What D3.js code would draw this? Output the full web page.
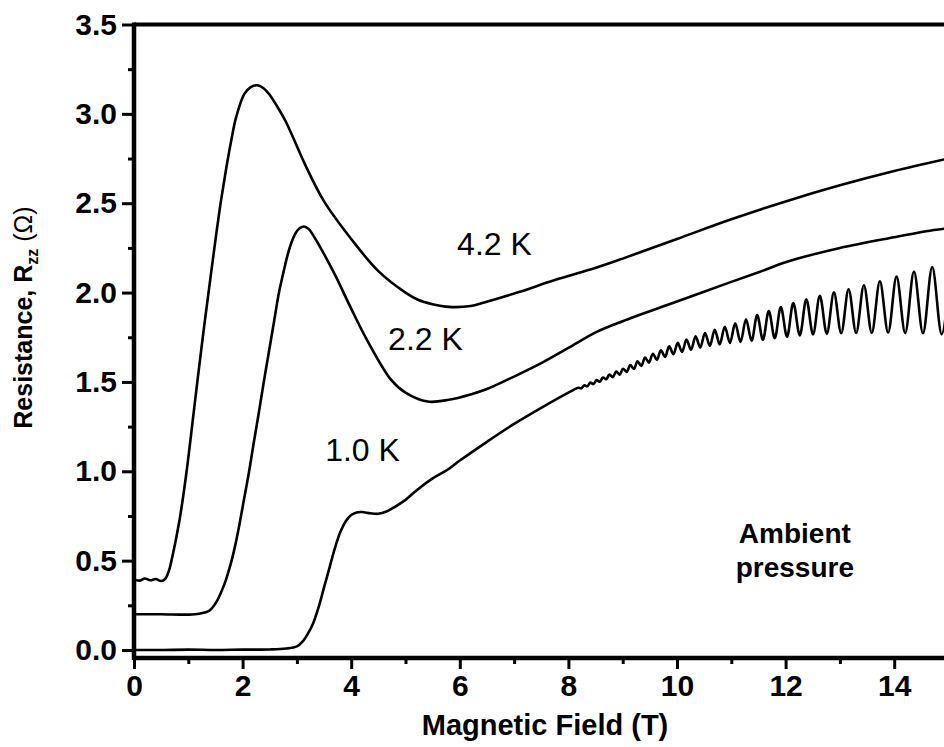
<!DOCTYPE html>
<html>
<head>
<meta charset="utf-8">
<script src="https://cdn.jsdelivr.net/npm/d3@7"></script>
<style>
    body { margin: 0; background: #fff; }
    svg { display: block; overflow: hidden; }
    text { font-family: "Liberation Sans", Arial, sans-serif; fill: #000; }
    .axis text { font-weight: bold; font-size: 30px; }
    .axis line { stroke: #000; stroke-width: 3; }
</style>
</head>
<body>
<script>
// values (field in T, resistance in ohm)
const field42 = [0, 0.1, 0.2, 0.3, 0.4, 0.5, 0.58, 0.65, 0.69, 0.76, 0.84, 0.92, 0.99, 1.08, 1.17, 1.3, 1.42, 1.52, 1.6, 1.69, 1.79, 1.88, 2.03, 2.15, 2.27, 2.38, 2.49, 2.64, 2.79, 2.97, 3.16, 3.5, 4.0, 4.5, 5.0, 5.23, 5.5, 5.8, 6.2, 6.45, 7.06, 7.75, 8.52, 9.0, 10.0, 11.0, 12.0, 13.0, 14.0, 15.0];
const res42 = [0.395, 0.388, 0.4, 0.39, 0.397, 0.386, 0.4, 0.45, 0.5, 0.6, 0.73, 0.89, 1.05, 1.28, 1.51, 1.83, 2.11, 2.34, 2.51, 2.68, 2.85, 2.98, 3.11, 3.15, 3.16, 3.145, 3.11, 3.04, 2.96, 2.84, 2.71, 2.51, 2.3, 2.12, 2.0, 1.96, 1.935, 1.92, 1.925, 1.945, 2.0, 2.07, 2.14, 2.19, 2.3, 2.41, 2.51, 2.6, 2.68, 2.75];

const field22 = [0, 0.5, 1.0, 1.2, 1.39, 1.5, 1.6, 1.69, 1.78, 1.86, 1.94, 2.03, 2.12, 2.2, 2.3, 2.39, 2.48, 2.58, 2.67, 2.75, 2.82, 2.9, 2.98, 3.05, 3.13, 3.22, 3.3, 3.4, 3.7, 4.0, 4.3, 4.74, 5.0, 5.41, 5.8, 6.2, 6.5, 7.0, 7.5, 8.0, 8.52, 9.0, 10.0, 11.0, 11.56, 12.0, 13.0, 14.0, 14.73, 15.0];
const res22 = [0.2, 0.2, 0.198, 0.203, 0.22, 0.26, 0.32, 0.39, 0.48, 0.58, 0.7, 0.85, 1.0, 1.15, 1.33, 1.5, 1.66, 1.84, 2.0, 2.11, 2.2, 2.28, 2.335, 2.36, 2.37, 2.355, 2.32, 2.27, 2.1, 1.91, 1.73, 1.51, 1.44, 1.39, 1.4, 1.43, 1.46, 1.53, 1.605, 1.69, 1.78, 1.84, 1.95, 2.06, 2.12, 2.17, 2.25, 2.31, 2.35, 2.36];

const field10 = [0, 0.5, 1.0, 1.5, 2.0, 2.5, 2.8, 3.0, 3.1, 3.2, 3.3, 3.4, 3.5, 3.6, 3.7, 3.8, 3.9, 4.0, 4.1, 4.2, 4.35, 4.5, 4.65, 4.8, 5.0, 5.23, 5.5, 5.78, 6.0, 6.5, 7.0, 7.5, 8.0];
const res10 = [0, 0, 0.002, 0, 0.002, 0.003, 0.008, 0.02, 0.045, 0.09, 0.15, 0.24, 0.35, 0.46, 0.57, 0.66, 0.72, 0.755, 0.77, 0.772, 0.765, 0.762, 0.775, 0.8, 0.84, 0.9, 0.96, 1.01, 1.06, 1.165, 1.265, 1.355, 1.44];

// quantum oscillations on the 1.0 K trace: maxima and minima
const peakField10 = [8.186, 8.294, 8.405, 8.519, 8.636, 8.756, 8.88, 9.007, 9.139, 9.273, 9.412, 9.556, 9.703, 9.856, 10.013, 10.175, 10.343, 10.516, 10.695, 10.88, 11.072, 11.271, 11.477, 11.69, 11.912, 12.142, 12.382, 12.631, 12.89, 13.16, 13.442, 13.736, 14.043, 14.364, 14.7, 15.05];
const peakRes10 = [1.467, 1.481, 1.496, 1.51, 1.525, 1.541, 1.558, 1.574, 1.594, 1.615, 1.637, 1.658, 1.677, 1.699, 1.719, 1.737, 1.756, 1.774, 1.792, 1.809, 1.828, 1.851, 1.874, 1.896, 1.919, 1.942, 1.963, 1.982, 2.001, 2.019, 2.041, 2.063, 2.089, 2.117, 2.143, 2.167];
const troughField10 = [8.239, 8.349, 8.461, 8.577, 8.696, 8.818, 8.943, 9.073, 9.206, 9.342, 9.483, 9.629, 9.779, 9.934, 10.093, 10.258, 10.428, 10.605, 10.787, 10.975, 11.17, 11.373, 11.582, 11.8, 12.026, 12.261, 12.505, 12.759, 13.024, 13.299, 13.587, 13.888, 14.202, 14.53, 14.875];
const troughRes10 = [1.464, 1.476, 1.488, 1.501, 1.515, 1.527, 1.541, 1.556, 1.573, 1.59, 1.608, 1.624, 1.64, 1.655, 1.668, 1.68, 1.692, 1.702, 1.71, 1.718, 1.724, 1.73, 1.736, 1.745, 1.753, 1.76, 1.766, 1.769, 1.772, 1.774, 1.774, 1.776, 1.774, 1.772, 1.766];

const xMajor = [0, 2, 4, 6, 8, 10, 12, 14];
const xMinor = [1, 3, 5, 7, 9, 11, 13, 15];
const yMajor = [0, 0.5, 1.0, 1.5, 2.0, 2.5, 3.0, 3.5];
const yMinor = [0.25, 0.75, 1.25, 1.75, 2.25, 2.75, 3.25];
const curveNames = ["4.2 K", "2.2 K", "1.0 K"];

(function () {
    const width = 944;
    const height = 747;
    let svg = d3.select("body")
        .append("svg")
        .attr("width", width)
        .attr("height", height);

    let x = d3.scaleLinear().domain([0, 15]).range([134, 948.5]);
    let y = d3.scaleLinear().domain([0, 3.5]).range([650, 24.5]);
    const bottom = 658;

    // curves
    let toPts = (xs, ys) => xs.map((v, i) => [v, ys[i]]);
    let osc = toPts(peakField10, peakRes10).concat(toPts(troughField10, troughRes10));
    let pts10 = toPts(field10, res10).concat(osc).sort((a, b) => a[0] - b[0]);
    let curves = [toPts(field42, res42), toPts(field22, res22), pts10];

    let line = d3.line()
        .x(d => x(d[0]))
        .y(d => y(d[1]))
        .curve(d3.curveCatmullRom.alpha(0.5));

    svg.selectAll(".curve")
        .data(curves)
        .enter()
        .append("path")
        .attr("class", "curve")
        .attr("d", line)
        .attr("fill", "none")
        .attr("stroke", "#000")
        .attr("stroke-width", 2.6)
        .attr("stroke-linejoin", "round");

    // axes
    svg.append("g").attr("class", "axis")
        .attr("transform", `translate(0, ${bottom})`)
        .call(d3.axisBottom(x).tickValues(xMajor).tickSize(11).tickPadding(6).tickFormat(d3.format("d")));
    svg.append("g").attr("class", "axis")
        .attr("transform", `translate(0, ${bottom})`)
        .call(d3.axisBottom(x).tickValues(xMinor).tickSize(6).tickFormat(""));

    svg.append("g").attr("class", "axis")
        .attr("transform", `translate(${x(0)}, 0)`)
        .call(d3.axisLeft(y).tickValues(yMajor).tickSize(12).tickPadding(5).tickFormat(d3.format(".1f")));
    svg.append("g").attr("class", "axis")
        .attr("transform", `translate(${x(0)}, 0)`)
        .call(d3.axisLeft(y).tickValues(yMinor).tickSize(6).tickFormat(""));

    svg.selectAll(".axis .domain").remove();

    // frame lines
    svg.append("line")
        .attr("x1", x(0)).attr("x2", width)
        .attr("y1", bottom).attr("y2", bottom)
        .attr("stroke", "#000").attr("stroke-width", 4.5);
    svg.append("line")
        .attr("x1", x(0)).attr("x2", width)
        .attr("y1", y(3.5)).attr("y2", y(3.5))
        .attr("stroke", "#000").attr("stroke-width", 4);
    svg.append("line")
        .attr("x1", x(0)).attr("x2", x(0))
        .attr("y1", y(3.5) - 2).attr("y2", bottom + 2)
        .attr("stroke", "#000").attr("stroke-width", 4.5);

    // axis titles
    svg.append("text")
        .attr("x", 545)
        .attr("y", 735)
        .attr("text-anchor", "middle")
        .attr("font-size", 29)
        .attr("font-weight", "bold")
        .text("Magnetic Field (T)");

    let ylab = svg.append("text")
        .attr("transform", `translate(32, ${y(1.86)}) rotate(-90)`)
        .attr("text-anchor", "middle")
        .attr("font-size", 25)
        .attr("font-weight", "bold");
    ylab.append("tspan").text("Resistance, R");
    ylab.append("tspan").attr("font-size", 16).attr("dy", 6).text("zz");
    ylab.append("tspan").attr("dy", -6).attr("font-weight", "normal").text(" (\u03A9)");

    // curve labels
    let labelPos = [[5.95, 2.21], [4.68, 1.68], [3.52, 1.06]];
    svg.selectAll(".clabel")
        .data(curveNames)
        .enter()
        .append("text")
        .attr("class", "clabel")
        .attr("x", (d, i) => x(labelPos[i][0]))
        .attr("y", (d, i) => y(labelPos[i][1]))
        .attr("font-size", 32)
        .text(d => d);

    svg.append("text")
        .attr("x", x(12.17)).attr("y", y(0.6))
        .attr("text-anchor", "middle")
        .attr("font-size", 28).attr("font-weight", "bold")
        .text("Ambient");
    svg.append("text")
        .attr("x", x(12.17)).attr("y", y(0.41))
        .attr("text-anchor", "middle")
        .attr("font-size", 28).attr("font-weight", "bold")
        .text("pressure");
})();
</script>
</body>
</html>
